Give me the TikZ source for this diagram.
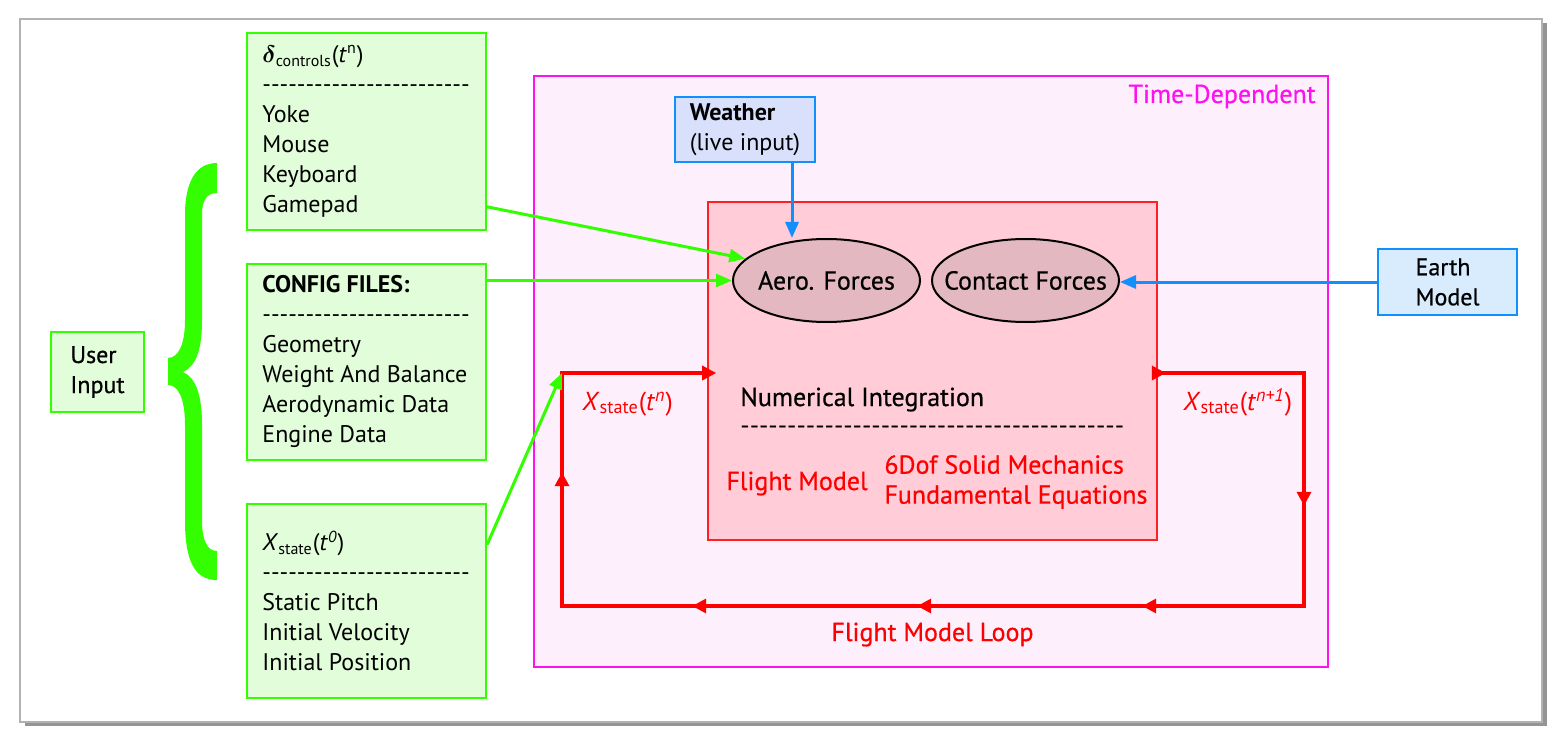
\documentclass[tikz,border=0pt]{standalone}
\usepackage{fontspec}
\setmainfont{PT Sans}
\newfontfamily\semib{PT Sans}[FakeBold=0.6]
\usepackage{bm}
\usetikzlibrary{shapes.geometric,arrows.meta,shadows,decorations.markings,calc}
\definecolor{grnline}{HTML}{33FF00}
\definecolor{grnfill}{HTML}{E2FDDA}
\definecolor{magline}{HTML}{FF10F0}
\definecolor{magfill}{HTML}{FDF0FC}
\definecolor{redline}{HTML}{FF2020}
\definecolor{redfill}{HTML}{FFCCD8}
\definecolor{ellfill}{HTML}{E3B8C0}
\definecolor{blueline}{HTML}{1090FF}
\definecolor{wfill}{HTML}{D8E0FC}
\definecolor{efill}{HTML}{D8ECFD}
\definecolor{loopred}{HTML}{FF0000}
\newcommand\hyphens[1]{\foreach \k in {1,...,#1}{-\kern0pt}}
\tikzset{
  rtip/.tip={Triangle[length=7pt,width=7pt]},
  gtip/.tip={Triangle[length=8pt,width=6.5pt]},
}
\begin{document}
\begin{tikzpicture}[x=0.5pt,y=-0.5pt,
  every node/.style={font=\fontsize{12}{15}\selectfont},
  gbox/.style={draw=grnline, fill=grnfill, line width=1pt, inner sep=0, minimum width=119.5pt},
  listtxt/.style={anchor=west, inner sep=0, align=left},
  bigtxt/.style={font=\fontsize{13}{15}\selectfont\semib},
  bbox/.style={draw=blueline, line width=1pt, inner sep=0, align=left},
  forces/.style={ellipse, draw=black, fill=ellfill, line width=1pt, minimum width=93.5pt, minimum height=41.5pt, inner xsep=-8pt, inner ysep=0pt, font=\fontsize{13}{15}\selectfont\semib},
  garrow/.style={draw=grnline, line width=1.5pt, -{gtip}},
  barrow/.style={draw=blueline, line width=1.5pt, -{gtip}},
  redloop/.style={draw=loopred, line width=1.7pt},
  redtxt/.style={text=loopred, font=\fontsize{13}{15}\selectfont\semib},
]
\useasboundingbox (0,0) rectangle (1562,743);
% panel
\node[draw=gray!60, fill=white, line width=0.8pt, minimum width=761pt, minimum height=351.5pt, inner sep=0,
  drop shadow={shadow xshift=2.5pt, shadow yshift=-2pt, opacity=0.6, fill=black!70}] (panel) at (781,370.5) {};

% user input
\node[draw=grnline, fill=grnfill, line width=1pt, minimum width=46.5pt, minimum height=40pt, inner sep=0, align=left, font=\fontsize{12}{15}\selectfont\semib] (user) at (97.5,372) {User\\Input};

% brace
\fill[grnline] (217,163) .. controls (194,163) and (185,185) .. (185,215) -- (185,320)
  .. controls (185,345) and (178,358) .. (168,358) -- (168,385)
  .. controls (178,385) and (185,398) .. (185,425) -- (185,520)
  .. controls (185,560) and (194,580) .. (217,580) -- (217,551)
  .. controls (207,551) and (202,540) .. (202,520) -- (202,425)
  .. controls (202,395) and (196,378) .. (183,372)
  .. controls (196,366) and (202,350) .. (202,320) -- (202,215)
  .. controls (202,200) and (207,193) .. (217,193) -- cycle;

% left boxes
\node[gbox, minimum height=98.5pt] (ctrl) at (366.5,131.5) {};
\node[listtxt] (ctrltxt) at (262,131.5) {$\bm{\delta}$\textsubscript{controls}(\textit{t}\textsuperscript{n})\\\hyphens{24}\\Yoke\\Mouse\\Keyboard\\Gamepad};
\node[gbox, minimum height=98pt] (cfg) at (366.5,362) {};
\node[listtxt] (cfgtxt) at (262,361) {\textbf{CONFIG FILES:}\\\hyphens{24}\\Geometry\\Weight And Balance\\Aerodynamic Data\\Engine Data};
\node[gbox, minimum height=97pt] (xst) at (366.5,601) {};
\node[listtxt] (xsttxt) at (262,601) {\textit{X}\textsubscript{state}(\textit{t}\textsuperscript{\textit{0}})\\\hyphens{24}\\Static Pitch\\Initial Velocity\\Initial Position};

% time dependent
\node[draw=magline, fill=magfill, line width=1pt, minimum width=397pt, minimum height=295.5pt, inner sep=0] (td) at (931,371.5) {};
\node[anchor=base east, inner sep=0, text=magline, font=\fontsize{13}{15}\selectfont\semib] (tdlab) at (1316,103) {Time-Dependent};

% weather
\node[bbox, fill=wfill, minimum width=70pt, minimum height=32.5pt] (weather) at (745,129.5) {\textbf{Weather}\\(live input)};

% flight model box
\node[draw=redline, fill=redfill, line width=0.8pt, minimum width=224.5pt, minimum height=169pt, inner sep=0] (fm) at (932.5,371) {};
\node[forces] (aero) at (826.5,280.5) {Aero. Forces};
\node[forces] (contact) at (1025.5,280.5) {Contact Forces};
\node[anchor=base west, inner sep=0, bigtxt] (numint) at (740,406) {Numerical Integration};
\node[anchor=base west, inner sep=0, font=\fontsize{13}{15}\selectfont] (numdash) at (740,434) {\hyphens{41}};
\node[anchor=base west, inner sep=0, redtxt] (fmlab) at (726,490) {Flight Model};
\node[anchor=west, inner sep=0, redtxt, align=left] (sixdof) at (884,482) {6Dof Solid Mechanics\\Fundamental Equations};

% earth
\node[bbox, fill=efill, minimum width=69.5pt, minimum height=33pt, font=\fontsize{12}{15}\selectfont\semib] (earth) at (1447.5,282) {Earth\\Model};

% loop
\coordinate (loopTL) at (562,373);
\coordinate (loopTR) at (1304,373);
\coordinate (loopBR) at (1304,606);
\coordinate (loopBL) at (562,606);
\coordinate (loopEnd) at ($(fm.west |- loopTL)+(9,0)$);
\draw[redloop, -{rtip}, postaction={decorate}, decoration={markings,
    mark=at position 4pt with {\arrow{rtip}},
    mark=at position 139.5pt with {\arrow{rtip}},
    mark=at position 270.5pt with {\arrow{rtip}},
    mark=at position 383pt with {\arrow{rtip}},
    mark=at position 495.5pt with {\arrow{rtip}},
    mark=at position 627.5pt with {\arrow{rtip}}}]
  (fm.east |- loopTR) -- (loopTR) -- (loopBR) -- (loopBL) -- (loopTL) -- (loopEnd);
\node[anchor=base west, inner sep=0, text=loopred, font=\fontsize{13}{15}\selectfont] (xn) at (582,410) {\textit{X}\textsubscript{state}(\textit{t}\textsuperscript{\textit{n}})};
\node[anchor=base west, inner sep=0, text=loopred, font=\fontsize{13}{15}\selectfont] (xn1) at (1183,410) {\textit{X}\textsubscript{state}(\textit{t}\textsuperscript{\textit{n+1}})};
\node[anchor=base, inner sep=0, redtxt] (looplab) at (932.5,641) {Flight Model Loop};

% arrows
\coordinate (wx) at (792,0);
\draw[barrow] (weather.south -| wx) -- (aero.north -| wx);
\draw[barrow] (earth.west) -- (contact.east |- earth.west);
\draw[garrow] (ctrl.-32) -- (aero.165);
\draw[garrow] (cfg.east |- aero.west) -- (aero.west);
\draw[garrow] (xst.25) -- (loopTL);
\end{tikzpicture}
\end{document}
